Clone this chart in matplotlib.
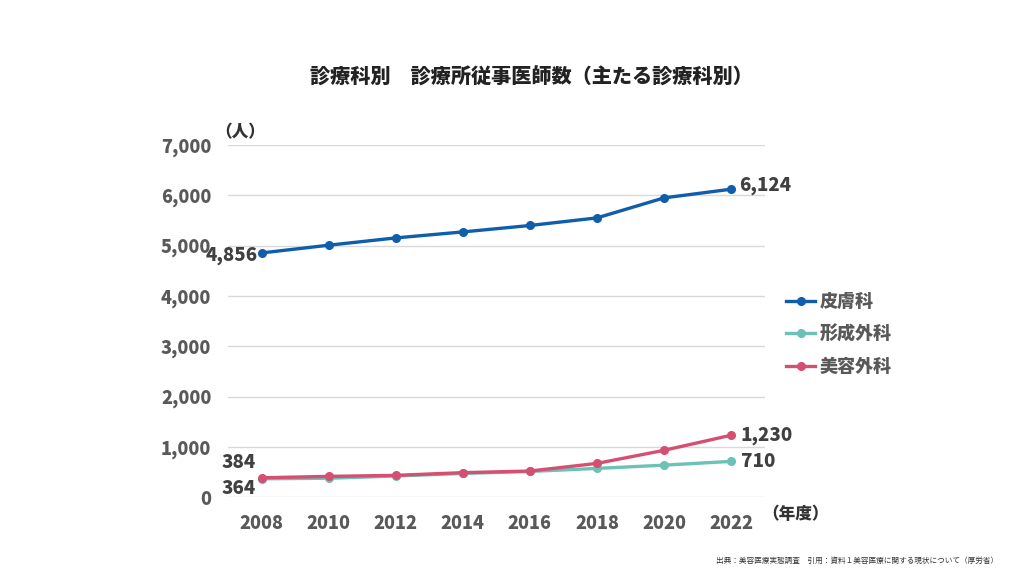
import numpy as np
import matplotlib
matplotlib.use("Agg")
import matplotlib.pyplot as plt

plt.rcParams['font.family'] = ['Noto Sans CJK JP', 'DejaVu Sans']

years = ["2008", "2010", "2012", "2014", "2016", "2018", "2020", "2022"]
hifu = [4856, 5010, 5155, 5274, 5402, 5553, 5951, 6124]
keisei = [364, 375, 420, 470, 510, 570, 635, 710]
biyou = [384, 412, 432, 486, 518, 670, 930, 1230]
names = ["皮膚科", "形成外科", "美容外科"]
colors = ["#0f5dab", "#6cc2b6", "#d44f72"]
gray = "#595959"

fig = plt.figure(figsize=(10.24, 5.76), dpi=100)
ax = fig.add_axes([0.2227, 0.137, 0.524, 0.611])
x = np.arange(len(years))

# teal drawn under pink
for data, name, c, z in [(hifu, names[0], colors[0], 3), (keisei, names[1], colors[1], 2), (biyou, names[2], colors[2], 3)]:
    ax.plot(x, data, color=c, lw=2.4, marker='o', ms=5.5, label=name, zorder=z)

ax.set_xlim(-0.5, 7.5)
ax.set_ylim(0, 7000)
ax.set_yticks(np.arange(0, 7001, 1000))
ax.set_yticklabels([f"{v:,}" for v in range(0, 7001, 1000)])
ax.set_xticks(x)
ax.set_xticklabels(years)
ax.grid(axis='y', color='#d9d9d9', lw=1)
ax.set_axisbelow(True)
for s in ax.spines.values():
    s.set_visible(False)
ax.tick_params(length=0, labelsize=13, colors=gray, pad=12)
ax.tick_params(axis='x', pad=12)
for lab in ax.get_xticklabels() + ax.get_yticklabels():
    lab.set_fontweight('black')

lab_kw = dict(fontsize=13.5, fontweight='black', color='#404040')
ax.annotate(f"{hifu[0]:,}", (x[0], hifu[0]), xytext=(-3, -2), textcoords='offset points', ha='right', va='center', **lab_kw)
ax.annotate(f"{hifu[-1]:,}", (x[-1], hifu[-1]), xytext=(6, 3), textcoords='offset points', ha='left', va='center', **lab_kw)
ax.annotate(f"{biyou[0]:,}", (x[0], biyou[0]), xytext=(-4, 11), textcoords='offset points', ha='right', va='center', **lab_kw)
ax.annotate(f"{keisei[0]:,}", (x[0], keisei[0]), xytext=(-4, -7), textcoords='offset points', ha='right', va='center', **lab_kw)
ax.annotate(f"{biyou[-1]:,}", (x[-1], biyou[-1]), xytext=(7, 0), textcoords='offset points', ha='left', va='center', **lab_kw)
ax.annotate(f"{keisei[-1]:,}", (x[-1], keisei[-1]), xytext=(7, 0), textcoords='offset points', ha='left', va='center', **lab_kw)

fig.text(0.519, 0.865, "診療科別　診療所従事医師数（主たる診療科別）", ha='center', va='center',
         fontsize=14.5, fontweight='black', color='#222222')
fig.text(0.235, 0.771, "（人）", ha='center', va='center', fontsize=12, fontweight='black', color='#333333')
fig.text(0.744, 0.108, "（年度）", ha='left', va='center', fontsize=12, fontweight='black', color='#333333')
fig.text(0.975, 0.027, "出典：美容医療実態調査　引用：資料１美容医療に関する現状について（厚労省）",
         ha='right', va='center', fontsize=5.5, color='#333333')

leg = fig.legend(loc='center left', bbox_to_anchor=(0.752, 0.42), frameon=False,
                 handlelength=1.6, handletextpad=0.25, labelspacing=0.75,
                 prop={'size': 13, 'weight': 'black'})
for t in leg.get_texts():
    t.set_color(gray)

fig.savefig("out.png", dpi=100, facecolor='white')
